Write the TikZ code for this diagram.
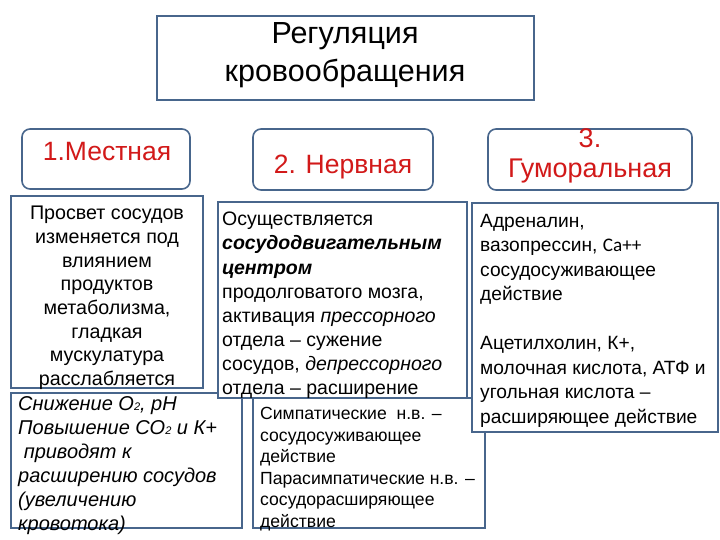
\documentclass[tikz,border=0pt]{standalone}
\usepackage{fontspec}
\setmainfont{Liberation Sans}
\newfontfamily\calib{Carlito}
\definecolor{bord}{RGB}{72,102,140}
\definecolor{redt}{RGB}{210,25,25}
\tikzset{
  box/.style={draw=bord, line width=1.6pt, fill=white, inner sep=0pt},
  rbox/.style={box, rounded corners=8pt},
  txt/.style={inner sep=0pt, text=black}
}
\begin{document}
\begin{tikzpicture}[x=1pt,y=-1pt]
\useasboundingbox (0,0) rectangle (720,540);
% title
\node[box, minimum width=377pt, minimum height=84pt] (title) at (345.5,58) {};
\node[txt, align=center, font=\fontsize{30.5}{38}\selectfont] (titlet) at (345,55) {Регуляция\\кровообращения};
% category boxes
\node[rbox, minimum width=168pt, minimum height=60pt] (c1) at (106,159) {};
\node[txt, text=redt, font=\fontsize{26.5}{30}\selectfont] (c1t) at (107,152) {1.Местная};
\node[rbox, minimum width=180pt, minimum height=61pt] (c2) at (343,159.5) {};
\node[txt, text=redt, font=\fontsize{26.5}{30}\selectfont] (c2t) at (343,167) {2. Нервная};
\node[rbox, minimum width=204pt, minimum height=61pt] (c3) at (590,159.5) {};
\node[txt, text=redt, align=center, font=\fontsize{27}{30}\selectfont] (c3t) at (590,156) {3.\\Гуморальная};
% lower boxes (drawn first, partly covered)
\node[box, minimum width=231pt, minimum height=135pt] (d) at (126.5,460.5) {};
\node[txt, anchor=north west, align=left, font=\fontsize{20}{24}\itshape\selectfont] (dt) at (18,396)
 {Снижение О{\fontsize{11}{11}\selectfont 2}, рН\\Повышение СО{\fontsize{11}{11}\selectfont 2} и К+\\\ приводят к\\расширению сосудов\\(увеличению\\кровотока)};
\node[box, minimum width=232pt, minimum height=130pt] (e) at (369,463) {};
\node[txt, anchor=north west, align=left, font=\fontsize{17.6}{21.6}\selectfont] (et) at (260,407)
 {Симпатические\ \ н.в. --\\сосудосуживающее\\действие\\Парасимпатические н.в. --\\сосудорасширяющее\\действие};
% description boxes
\node[box, minimum width=192pt, minimum height=192pt] (a) at (107,292) {};
\node[txt, anchor=north, align=center, font=\fontsize{19.7}{23.7}\selectfont] (at) at (107,206)
 {Просвет сосудов\\изменяется под\\влиянием\\продуктов\\метаболизма,\\гладкая\\мускулатура\\расслабляется};
\node[box, minimum width=249pt, minimum height=196pt] (b) at (342.5,300) {};
\node[txt, anchor=north west, align=left, font=\fontsize{19.5}{24.1}\selectfont] (bt) at (222,212)
 {Осуществляется\\\textbf{\textit{сосудодвигательным}}\\\textbf{\textit{центром}}\\продолговатого мозга,\\активация \textit{прессорного}\\отдела -- сужение\\сосудов, \textit{депрессорного}\\отдела -- расширение};
\node[box, minimum width=246pt, minimum height=229pt] (c) at (595,317.5) {};
\node[txt, anchor=north west, align=left, font=\fontsize{19.2}{24.5}\selectfont] (ct) at (480,214)
 {Адреналин,\\вазопрессин, {\calib Ca++}\\сосудосуживающее\\действие\\[24.5pt]Ацетилхолин, К+,\\молочная кислота, АТФ и\\угольная кислота --\\расширяющее действие};
\end{tikzpicture}
\end{document}
